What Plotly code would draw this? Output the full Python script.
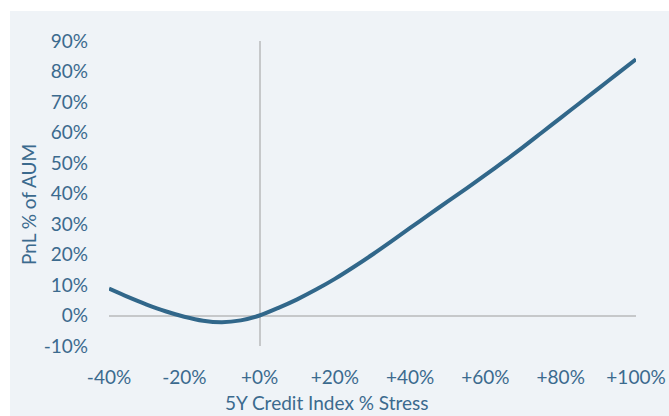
import plotly.graph_objects as go

# Data
stress = [-40, -35, -30, -25, -20, -15, -10, -5, 0, 5, 10, 15, 20, 25, 30, 35, 40,
          45, 50, 55, 60, 65, 70, 75, 80, 85, 90, 95, 100]
pnl = [8.8, 6.1, 3.6, 1.4, -0.4, -1.7, -2.2, -1.6, 0.0, 2.5, 5.3, 8.5, 12.0, 15.9, 20.0, 24.3, 28.7,
       33.1, 37.4, 41.7, 46.1, 50.6, 55.2, 60.0, 64.8, 69.6, 74.4, 79.2, 84.0]

x_tickvals = [-40, -20, 0, 20, 40, 60, 80, 100]
x_ticktext = ["-40%", "-20%", "+0%", "+20%", "+40%", "+60%", "+80%", "+100%"]
y_tickvals = [-10, 0, 10, 20, 30, 40, 50, 60, 70, 80, 90]
y_ticktext = ["-10%", "0%", "10%", "20%", "30%", "40%", "50%", "60%", "70%", "80%", "90%"]

W, H = 669, 416
# target page-pixel plot box: left 109, right 636, top 41, bottom 346
L, T = 109, 41
R = W - 636
B = H - 346
pw, ph = W - L - R, H - T - B

def px_x(p):
    return (p - L) / pw

def px_y(p):
    return (H - B - p) / ph

BG = "#eff3f7"
TXT = "#3b6a8e"
LINE = "#31678a"
FONT = "Lato"
FS = 19

fig = go.Figure()
fig.add_trace(go.Scatter(x=stress, y=pnl, mode="lines",
                         line=dict(color=LINE, width=4, shape="spline", smoothing=0.8),
                         hoverinfo="skip", showlegend=False))

fig.update_layout(
    width=W, height=H, autosize=False,
    margin=dict(l=L, r=R, t=T, b=B, pad=0, autoexpand=False),
    paper_bgcolor="white",
    plot_bgcolor=BG,
    font=dict(family=FONT, size=FS, color=TXT),
    xaxis=dict(range=[-40, 100], tickvals=x_tickvals, ticktext=x_ticktext,
               showgrid=False, zeroline=True, zerolinecolor="#c6c8ca", zerolinewidth=2,
               showline=False, ticks="", ticklabelstandoff=18, automargin=False,
               tickfont=dict(family=FONT, size=FS, color=TXT)),
    yaxis=dict(range=[-10, 90], tickvals=y_tickvals, ticktext=y_ticktext,
               showgrid=False, zeroline=True, zerolinecolor="#c6c8ca", zerolinewidth=2,
               showline=False, ticks="", ticklabelstandoff=20, automargin=False,
               tickfont=dict(family=FONT, size=FS, color=TXT)),
    shapes=[dict(type="rect", xref="paper", yref="paper",
                 x0=px_x(10), x1=px_x(W + 20), y0=px_y(H + 20), y1=px_y(11),
                 fillcolor=BG, line=dict(width=0), layer="below")],
    annotations=[
        dict(text="5Y Credit Index % Stress", xref="paper", yref="paper",
             x=px_x(327), y=px_y(402), showarrow=False,
             xanchor="center", yanchor="middle",
             font=dict(family=FONT, size=FS, color=TXT)),
        dict(text="PnL % of AUM", xref="paper", yref="paper",
             x=px_x(28), y=px_y(205), showarrow=False, textangle=-90,
             xanchor="center", yanchor="middle",
             font=dict(family=FONT, size=FS, color=TXT)),
    ],
)

fig.write_html(
    "out.html",
    config={"displayModeBar": False},
    post_script="document.body.style.margin='0';document.documentElement.style.overflow='hidden';document.body.style.overflow='hidden';",
)
